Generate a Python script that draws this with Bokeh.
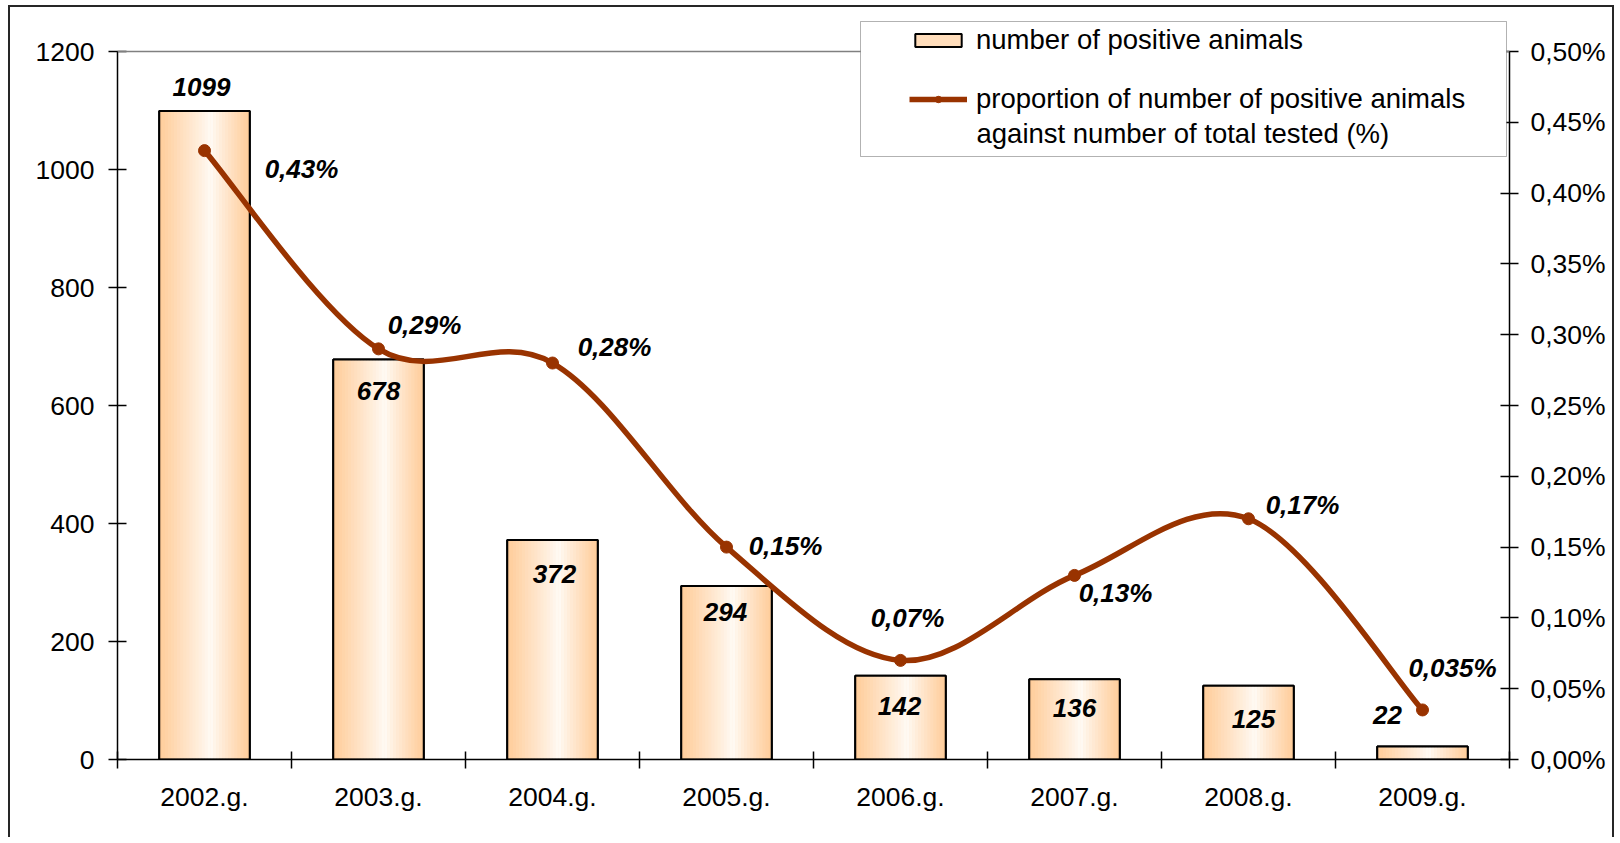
from bokeh.plotting import figure
from bokeh.models import (Range1d, LinearAxis, FixedTicker, CustomJSTickFormatter,
                          ColumnDataSource, Legend, LegendItem, BoxAnnotation, Span, Label)
from bokeh.embed import file_html
from bokeh.resources import INLINE
from bokeh.core.properties import value

# ---------------- data ----------------
years = ["2002.g.", "2003.g.", "2004.g.", "2005.g.", "2006.g.", "2007.g.", "2008.g.", "2009.g."]
positives = [1099, 678, 372, 294, 142, 136, 125, 22]
proportion_pct = [0.43, 0.29, 0.28, 0.15, 0.07, 0.13, 0.17, 0.035]
count_ticks = [0, 200, 400, 600, 800, 1000, 1200]
pct_ticks = [0.0, 0.05, 0.10, 0.15, 0.20, 0.25, 0.30, 0.35, 0.40, 0.45, 0.50]
legend_labels = ["number of positive animals",
                 "proportion of number of positive animals",
                 "against number of total tested (%)"]

# ---------------- styles / label offsets (screen px) ----------------
count_dx = [-3, 0, 2, -1, -1, 0, 5, -35]
count_dy = [-24, 32, 34, 26, 30, 29, 33, -32]
pct_dx = [97, 46, 62, 59, 7, 41, 54, 30]
pct_dy = [18, -24, -16, -1, -42, 18, -14, -42]

FONT = "Liberation Sans"
LINE_COLOR = "#993300"
EDGE = (255, 204, 153)
CENTER = (255, 251, 246)
TICK_FS = "26.5px"

W, H = 1606, 832
PLOT_PX = 708      # pixel height between 0 and top tick
TOP_PAD = 44       # pixels above the top tick inside the frame
FRAME_H = PLOT_PX + TOP_PAD
n = len(years)
xc = [i + 0.5 for i in range(n)]
y_max = count_ticks[-1] * FRAME_H / PLOT_PX
pct_max = pct_ticks[-1] * FRAME_H / PLOT_PX

p = figure(width=W, height=H, output_backend="svg", toolbar_location=None,
           x_range=Range1d(0, n), y_range=Range1d(count_ticks[0], y_max),
           min_border_left=107, min_border_right=107, min_border_top=0,
           min_border_bottom=H - FRAME_H)
p.extra_y_ranges = {"pct": Range1d(pct_ticks[0], pct_max)}
p.grid.visible = False
p.background_fill_color = "white"
p.border_fill_color = "white"
p.outline_line_color = None
p.margin = (5, 0, 0, 8)
p.styles = {"border-top": "2px solid #262626", "border-left": "2px solid #262626",
            "border-right": "2px solid #262626"}

# top border of the plot area
p.add_layout(Span(location=count_ticks[-1], dimension="width",
                  line_color="#808080", line_width=1.5))

# ---------------- bars with horizontal gradient ----------------
bar_w = 0.52
base = p.vbar(x=xc, top=positives, bottom=0, width=bar_w,
              fill_color="#FFDDBB", line_color="black", line_width=2)

N = 30
sx, stop, scol = [], [], []
peak = 0.57
for i in range(n):
    for k in range(N):
        t = (k + 0.5) / N
        d = abs(t - peak) / (peak if t < peak else 1 - peak)
        d = min(1.0, d) ** 0.9
        c = tuple(int(round(CENTER[j] + (EDGE[j] - CENTER[j]) * d)) for j in range(3))
        sx.append(xc[i] - bar_w / 2 + t * bar_w)
        stop.append(positives[i])
        scol.append("#%02x%02x%02x" % c)
p.vbar(x=sx, top=stop, bottom=0, width=bar_w / N * 1.15, fill_color=scol, line_color=None)
p.vbar(x=xc, top=positives, bottom=0, width=bar_w, fill_color=None,
       line_color="black", line_width=2)

# ---------------- smoothed line (Catmull-Rom -> Bezier) ----------------
pts = list(zip(xc, proportion_pct))
bx0, by0, bx1, by1, c0x, c0y, c1x, c1y = [], [], [], [], [], [], [], []
for i in range(n - 1):
    p0 = pts[i - 1] if i > 0 else pts[i]
    p1 = pts[i]
    p2 = pts[i + 1]
    p3 = pts[i + 2] if i + 2 < n else pts[i + 1]
    bx0.append(p1[0]); by0.append(p1[1])
    bx1.append(p2[0]); by1.append(p2[1])
    c0x.append(p1[0] + (p2[0] - p0[0]) / 6); c0y.append(p1[1] + (p2[1] - p0[1]) / 6)
    c1x.append(p2[0] - (p3[0] - p1[0]) / 6); c1y.append(p2[1] - (p3[1] - p1[1]) / 6)
curve = p.bezier(x0=bx0, y0=by0, x1=bx1, y1=by1, cx0=c0x, cy0=c0y, cx1=c1x, cy1=c1y,
                 line_color=LINE_COLOR, line_width=5.5, y_range_name="pct")
dots = p.scatter(x=xc, y=proportion_pct, size=12, marker="circle",
                 fill_color=LINE_COLOR, line_color=LINE_COLOR, y_range_name="pct")

# ---------------- data labels ----------------
cnt_src = ColumnDataSource(dict(x=xc, y=positives, t=[str(v) for v in positives],
                                dx=count_dx, dy=count_dy))
p.text(x="x", y="y", text="t", x_offset="dx", y_offset="dy", source=cnt_src,
       text_font=value(FONT), text_font_size="26px", text_font_style="bold italic",
       text_align="center", text_baseline="middle", text_color="black")

pct_src = ColumnDataSource(dict(x=xc, y=proportion_pct,
                                t=[("%g" % v).replace(".", ",") + "%" for v in proportion_pct],
                                dx=pct_dx, dy=pct_dy))
p.text(x="x", y="y", text="t", x_offset="dx", y_offset="dy", source=pct_src,
       y_range_name="pct",
       text_font=value(FONT), text_font_size="26px", text_font_style="bold italic",
       text_align="center", text_baseline="middle", text_color="black")

# ---------------- axes ----------------
yl = p.yaxis[0]
yl.ticker = FixedTicker(ticks=count_ticks)
yl.bounds = (count_ticks[0], count_ticks[-1])
yl.major_tick_in = 9
yl.major_tick_out = 9
yl.minor_tick_line_color = None
yl.axis_line_color = "black"
yl.axis_line_width = 1.5
yl.major_tick_line_color = "black"
yl.major_tick_line_width = 1.5
yl.major_label_standoff = 14
yl.major_label_text_font = FONT
yl.major_label_text_font_size = TICK_FS
yl.major_label_text_color = "black"

yr = LinearAxis(y_range_name="pct", ticker=FixedTicker(ticks=pct_ticks),
                bounds=(pct_ticks[0], pct_ticks[-1]),
                formatter=CustomJSTickFormatter(code="return tick.toFixed(2).replace('.', ',') + '%';"),
                major_tick_in=9, major_tick_out=9, minor_tick_line_color=None,
                axis_line_color="black", axis_line_width=1.5,
                major_tick_line_color="black", major_tick_line_width=1.5,
                major_label_standoff=12, major_label_text_font=FONT,
                major_label_text_font_size=TICK_FS, major_label_text_color="black")
p.add_layout(yr, "right")

xt = p.xaxis[0]
xt.ticker = FixedTicker(ticks=list(range(n + 1)))
xt.formatter = CustomJSTickFormatter(code="return '';")
xt.major_tick_in = 8
xt.major_tick_out = 9
xt.minor_tick_line_color = None
xt.axis_line_color = "black"
xt.axis_line_width = 1.5
xt.major_tick_line_color = "black"
xt.major_tick_line_width = 1.5
xt.major_label_standoff = 0
xt.major_label_text_font_size = "1px"

xl = LinearAxis(ticker=FixedTicker(ticks=xc),
                formatter=CustomJSTickFormatter(args=dict(labels=years),
                    code="const i = Math.floor(tick); return (i >= 0 && i < labels.length) ? labels[i] : '';"),
                axis_line_color=None, major_tick_line_color=None, minor_tick_line_color=None,
                major_tick_in=0, major_tick_out=0, major_label_standoff=13,
                major_label_text_font=FONT, major_label_text_font_size=TICK_FS,
                major_label_text_color="black")
p.add_layout(xl, "below")

# ---------------- legend ----------------
p.add_layout(BoxAnnotation(left=743, right=1389, top=738, bottom=603,
                           left_units="screen", right_units="screen",
                           top_units="screen", bottom_units="screen",
                           fill_color="white", fill_alpha=1.0,
                           line_color="black", line_width=1))
legend = Legend(items=[LegendItem(label=legend_labels[0], renderers=[base]),
                       LegendItem(label=legend_labels[1], renderers=[curve, dots])],
                location=(784, 635), orientation="vertical", padding=8, spacing=25,
                glyph_width=58, glyph_height=16, label_standoff=9, label_height=34,
                label_text_font=FONT, label_text_font_size="27.5px",
                label_text_color="black",
                border_line_alpha=0, background_fill_alpha=0)
p.add_layout(legend)
p.add_layout(Label(x=859, y=626, x_units="screen", y_units="screen", text=legend_labels[2],
                   text_font=FONT, text_font_size="27.5px", text_color="black",
                   text_align="left", text_baseline="middle"))

open("out.html", "w").write(file_html(p, INLINE))
